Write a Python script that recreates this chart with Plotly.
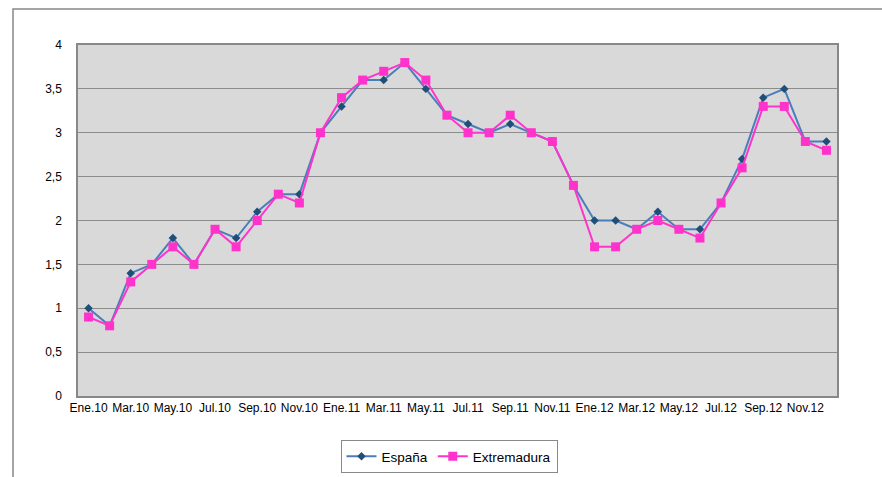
import plotly.graph_objects as go

months = ["Ene", "Feb", "Mar", "Abr", "May", "Jun", "Jul", "Ago", "Sep", "Oct", "Nov", "Dic"]
years = ["10", "11", "12"]
categories = [f"{m}.{y}" for y in years for m in months]

espana = [1.0, 0.8, 1.4, 1.5, 1.8, 1.5, 1.9, 1.8, 2.1, 2.3, 2.3, 3.0,
          3.3, 3.6, 3.6, 3.8, 3.5, 3.2, 3.1, 3.0, 3.1, 3.0, 2.9, 2.4,
          2.0, 2.0, 1.9, 2.1, 1.9, 1.9, 2.2, 2.7, 3.4, 3.5, 2.9, 2.9]
extremadura = [0.9, 0.8, 1.3, 1.5, 1.7, 1.5, 1.9, 1.7, 2.0, 2.3, 2.2, 3.0,
               3.4, 3.6, 3.7, 3.8, 3.6, 3.2, 3.0, 3.0, 3.2, 3.0, 2.9, 2.4,
               1.7, 1.7, 1.9, 2.0, 1.9, 1.8, 2.2, 2.6, 3.3, 3.3, 2.9, 2.8]
tick_labels = categories[::2]
y_ticks = [0, 0.5, 1, 1.5, 2, 2.5, 3, 3.5, 4]

W, H = 882, 477
L, R, T, B = 78, 45, 45, 81
pw, ph = W - L - R, H - T - B

fig = go.Figure()
fig.add_trace(go.Scatter(
    x=categories, y=espana, name="España", mode="lines+markers",
    line=dict(color="#4A7EBB", width=2),
    marker=dict(symbol="diamond", size=6.5, color="#1F4E79"),
))
fig.add_trace(go.Scatter(
    x=categories, y=extremadura, name="Extremadura", mode="lines+markers",
    line=dict(color="#FF33CC", width=2),
    marker=dict(symbol="square", size=9, color="#FF33CC"),
))

# outer chart border
fig.add_shape(type="rect", xref="paper", yref="paper",
              x0=(13 - L) / pw, x1=1.2, y0=-0.5, y1=(H - B - 9) / ph,
              line=dict(color="#888888", width=1.5), layer="below")

fig.update_layout(
    width=W, height=H,
    margin=dict(l=L, r=R, t=T, b=B, autoexpand=False),
    paper_bgcolor="white",
    plot_bgcolor="#D9D9D9",
    separators=",.",
    font=dict(family="Liberation Sans, Arial, sans-serif", size=12, color="#000000"),
    showlegend=True,
    legend=dict(
        orientation="h", x=(449 - L) / pw, xanchor="center",
        y=(H - B - 440) / ph, yanchor="top",
        bordercolor="#888888", borderwidth=1, bgcolor="white",
        font=dict(size=13.5), tracegroupgap=0,
    ),
    xaxis=dict(
        type="category", categoryorder="array", categoryarray=categories,
        tickmode="array", tickvals=tick_labels, ticktext=tick_labels,
        tickangle=0, showgrid=False, showline=True, linecolor="#888888",
        linewidth=1.5, mirror=True, ticks="", zeroline=False,
        range=[-0.5, len(categories) - 0.5],
    ),
    yaxis=dict(
        range=[0, 4], tickmode="array", tickvals=y_ticks,
        showgrid=True, gridcolor="#8C8C8C", gridwidth=1.2,
        showline=True, linecolor="#888888", linewidth=1.5, mirror=True,
        ticks="", zeroline=False, ticklabelstandoff=12,
    ),
)

fig.write_html("out.html", config={"displayModeBar": False},
               post_script="document.body.style.margin='0';document.body.style.overflow='hidden';")
